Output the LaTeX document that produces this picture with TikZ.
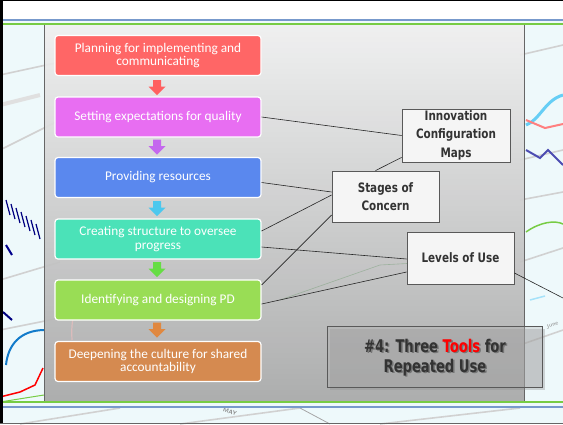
\documentclass[tikz,border=0pt]{standalone}
\usepackage{fontspec}
\setmainfont{Carlito}
\newfontfamily\labfont{DejaVu Sans}[FakeStretch=0.8]
\newfontfamily\titfont{DejaVu Sans}[FakeStretch=0.75]
\usetikzlibrary{shadows}
\definecolor{bgc}{HTML}{EEF9FB}
\definecolor{cA}{HTML}{FF6666}
\definecolor{cB}{HTML}{E86EF2}
\definecolor{cC}{HTML}{5A88EE}
\definecolor{cD}{HTML}{4BE2B8}
\definecolor{cE}{HTML}{99DD55}
\definecolor{cF}{HTML}{D58A50}
\definecolor{aA}{HTML}{FF6060}
\definecolor{aB}{HTML}{C468EE}
\definecolor{aC}{HTML}{4CC8EE}
\definecolor{aD}{HTML}{66DD44}
\definecolor{aE}{HTML}{E08840}
\definecolor{lineblue}{HTML}{7799CC}
\definecolor{linegreen}{HTML}{77CC44}
\definecolor{labtext}{HTML}{333333}
\tikzset{
  stepbox/.style={draw=white, line width=1.2pt, rounded corners=3pt,
    minimum width=206pt, minimum height=40pt, align=center, text=white,
    font=\fontsize{13.3}{13.5}\selectfont, inner sep=2pt},
  toolbox/.style={draw=black!65, fill=black!4, line width=0.8pt,
    align=center, text=labtext, font=\labfont\bfseries\fontsize{13}{18.5}\selectfont, inner sep=0pt},
  conn/.style={draw=black!85, line width=0.6pt},
  chart/.style={draw=black!18, line width=1.6pt},
  downarr/.pic={\fill (-4,0) -- (4,0) -- (4,6.5) -- (8.5,6.5) -- (0,15) -- (-8.5,6.5) -- (-4,6.5) -- cycle;}
}
\begin{document}
\begin{tikzpicture}[x=1pt,y=-1pt]
\useasboundingbox (0,0) rectangle (563,424);
% background chart (photo behind)
\fill[bgc] (0,0) rectangle (563,424);
\fill[white] (0,0) rectangle (563,20);
\draw[chart] (0,75) -- (60,62);
\draw[chart] (0,150) -- (60,120);
\draw[chart] (0,280) -- (60,262);
\draw[chart] (0,330) -- (60,318);
\draw[chart] (520,55) -- (563,45);
\draw[chart] (520,160) -- (563,150);
\draw[chart] (520,200) -- (563,192);
\draw[chart] (520,262) -- (563,248);
\draw[chart] (520,345) -- (563,330);
\draw[chart] (20,424) -- (120,408);
\draw[chart] (180,424) -- (300,408);
\draw[chart] (380,424) -- (520,408);
\draw[draw=black!35, line width=0.8pt] (300,408) -- (330,424);
\draw[draw=black!12, line width=4pt] (0,105) -- (40,95);
% blue bars on the left
\foreach \i in {0,...,6} {
  \draw[draw=blue!50!black, line width=1.2pt] (6+5*\i,200+4*\i) -- (10+5*\i,215+4*\i);
}
\draw[draw=blue!55!black, line width=2pt] (6,245) -- (12,255);
\draw[draw=cyan!60!blue, line width=2pt] (45,330) .. controls (20,330) and (8,345) .. (6,365);
\draw[draw=blue!50!black, line width=2pt] (3,312) -- (12,320);
\draw[draw=red, line width=1.5pt] (0,397) -- (20,392) -- (35,385) -- (43,368);
\draw[draw=linegreen, line width=1pt] (0,402) -- (44,395);
% right side chart
\draw[draw=cyan!60, line width=3pt] (526,125) .. controls (540,120) and (545,100) .. (563,95);
\draw[draw=red!50, line width=2pt] (526,120) -- (545,128) -- (563,124);
\draw[draw=blue!40!gray, line width=2pt] (526,150) -- (540,158) -- (548,150) -- (563,165);
\draw[draw=linegreen, line width=1.5pt] (526,232) .. controls (540,222) and (555,220) .. (563,224);
\draw[draw=cyan!35, line width=1.5pt] (530,300) -- (545,296);
\node[rotate=20, text=black!45, font=\sffamily\fontsize{6}{6}\selectfont] (june) at (552,325) {June};
\node[rotate=-18, text=black!45, font=\sffamily\bfseries\fontsize{6}{6}\selectfont] (may) at (230,412) {MAY};
% panel
\shade[top color=black!6, bottom color=black!34, opacity=0.93] (44,25) rectangle (524,401);
\draw[draw=red!25, line width=1.2pt, opacity=0.5] (72,340) .. controls (70,310) and (80,300) .. (90,295);
\draw[draw=green!40!black, line width=0.6pt, opacity=0.2] (280,300) -- (380,265) -- (470,260);
\draw[draw=black!60, line width=0.8pt] (44,25) -- (44,401);
\draw[draw=black!60, line width=0.8pt] (524,25) -- (524,401);
% frame lines
\draw[draw=lineblue, line width=1.3pt] (0,20) -- (563,20);
\draw[draw=linegreen, line width=1.5pt] (0,24) -- (563,24);
\draw[draw=linegreen, line width=1.3pt] (0,402) -- (563,402);
\draw[draw=lineblue, line width=1.3pt] (0,407) -- (563,407);
\draw[line width=1.4pt] (0,0.7) -- (563,0.7);
\draw[line width=3.2pt] (1.6,0) -- (1.6,424);
\draw[draw=black!60, line width=1pt] (0,423.5) -- (563,423.5);
% step boxes
\node[stepbox, fill=cA] (b1) at (158,55.5) {Planning for implementing and\\communicating};
\node[stepbox, fill=cB] (b2) at (158,117) {Setting expectations for quality};
\node[stepbox, fill=cC] (b3) at (158,177.5) {Providing resources};
\node[stepbox, fill=cD] (b4) at (158,239) {Creating structure to oversee\\progress};
\node[stepbox, fill=cF] (b6) at (158,361.5) {Deepening the culture for shared\\accountability};
\node[stepbox, fill=cE] (b5) at (158,300) {Identifying and designing PD};
% block arrows
\pic[aA] at (157,80) {downarr};
\pic[aB] at (157,139.5) {downarr};
\pic[aC] at (157,201) {downarr};
\pic[aD] at (157,262) {downarr};
\pic[aE] at (157,322.5) {downarr};
% tool boxes
\node[toolbox, minimum width=108pt, minimum height=53pt] (icm) at (456,135.5) {Innovation\\Configuration\\[0.5pt]Maps};
\node[toolbox, minimum width=107pt, minimum height=51pt] (soc) at (385.5,196.5) {Stages of\\Concern};
\node[toolbox, minimum width=107pt, minimum height=52pt] (lou) at (460.5,258) {Levels of Use};
\coordinate (edge) at (563,298);
% connectors
\draw[conn] (b2.east) -- (icm.west);
\draw[conn] ([yshift=5pt]icm.south west) -- ([xshift=-10pt]soc.north);
\draw[conn] ([yshift=-5pt]b3.east) -- ([yshift=4.5pt]soc.west);
\draw[conn] ([yshift=8pt]b4.east) -- ([yshift=1.5pt]soc.west);
\draw[conn] ([yshift=-8pt]b4.east) -- ([yshift=-1pt]lou.west);
\draw[conn] ([yshift=15pt]b5.east) -- ([yshift=-18.5pt]soc.west);
\draw[conn] ([yshift=-4pt]b5.east) -- ([yshift=-14pt]lou.west);
\draw[conn] ([yshift=-15pt]lou.east) -- (edge);
% title box
\fill[black!45, opacity=0.35] (330,329) rectangle (545,390);
\node[draw=black!65, fill=black!30, fill opacity=0.35, draw opacity=1, line width=0.8pt, minimum width=215pt, minimum height=61pt] (four) at (435,356.5) {};
\node[text=black!70, opacity=0.55, align=center, font=\titfont\bfseries\fontsize{17.5}{20}\selectfont] (fourshadow) at (436.5,359) {\#4: Three Tools for\\Repeated Use};
\node[text=black!80, align=center, font=\titfont\bfseries\fontsize{17.5}{20}\selectfont] (fourtext) at (435,357.5) {\#4: Three {\color{red}Tools} for\\Repeated Use};
\end{tikzpicture}
\end{document}
